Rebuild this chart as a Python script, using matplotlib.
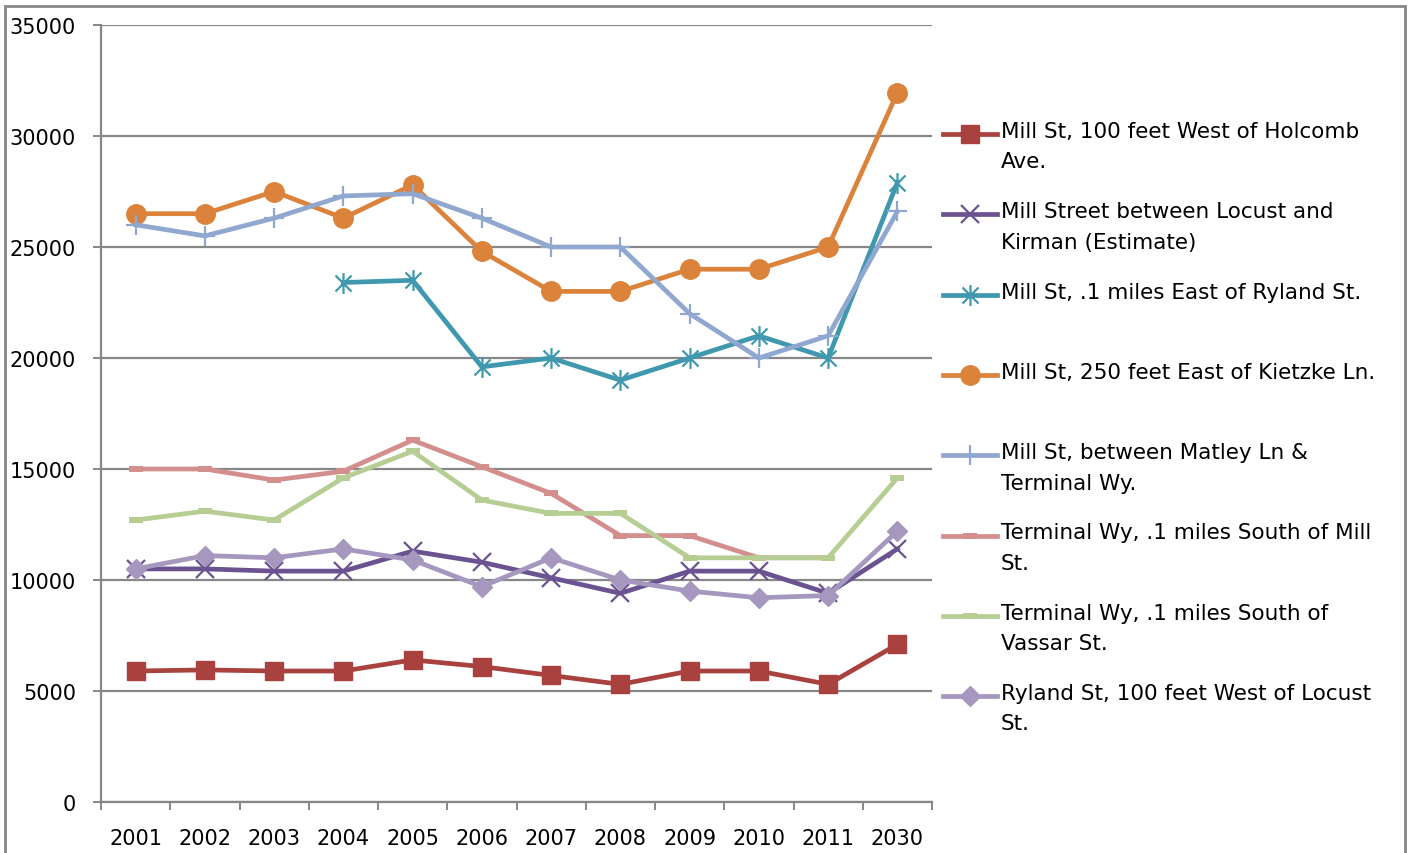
import numpy as np
import matplotlib
matplotlib.use("Agg")
import matplotlib.pyplot as plt
from matplotlib.lines import Line2D
from matplotlib.path import Path
from matplotlib.patches import Rectangle

# Categories and series.
years = ["2001", "2002", "2003", "2004", "2005", "2006",
         "2007", "2008", "2009", "2010", "2011", "2030"]
nan = np.nan

holcomb = [5900, 5950, 5900, 5900, 6400, 6100, 5700, 5300, 5900, 5900, 5300, 7100]
locust_kirman = [10500, 10500, 10400, 10400, 11300, 10800, 10100, 9400, 10400, 10400, 9400, 11400]
east_ryland = [nan, nan, nan, 23400, 23500, 19600, 20000, 19000, 20000, 21000, 20000, 27900]
kietzke = [26500, 26500, 27500, 26300, 27800, 24800, 23000, 23000, 24000, 24000, 25000, 31950]
matley = [26000, 25500, 26300, 27300, 27400, 26300, 25000, 25000, 22000, 20000, 21000, 26600]
terminal_mill = [15000, 15000, 14500, 14900, 16300, 15100, 13900, 12000, 12000, 11000, 11000, nan]
terminal_vassar = [12700, 13100, 12700, 14600, 15800, 13600, 13000, 13000, 11000, 11000, 11000, 14600]
ryland_locust = [10500, 11100, 11000, 11400, 10900, 9700, 11000, 10000, 9500, 9200, 9300, 12200]

labels = [
    "Mill St, 100 feet West of Holcomb\nAve.",
    "Mill Street between Locust and\nKirman (Estimate)",
    "Mill St, .1 miles East of Ryland St.",
    "Mill St, 250 feet East of Kietzke Ln.",
    "Mill St, between Matley Ln &\nTerminal Wy.",
    "Terminal Wy, .1 miles South of Mill\nSt.",
    "Terminal Wy, .1 miles South of\nVassar St.",
    "Ryland St, 100 feet West of Locust\nSt.",
]

# Excel-like asterisk: an X with a vertical bar through it
asterisk = Path([(-1, -1), (1, 1), (-1, 1), (1, -1), (0, -1.3), (0, 1.3)],
                [Path.MOVETO, Path.LINETO] * 3)

styles = [
    dict(color="#A9423F", marker="s", ms=13),
    dict(color="#6B5291", marker="x", ms=13, mew=1.6),
    dict(color="#3F98AE", marker=asterisk, ms=15, mew=1.6),
    dict(color="#DB823B", marker="o", ms=14),
    dict(color="#90A8CF", marker="+", ms=15, mew=1.6),
    dict(color="#D38F8E", marker="_", ms=10, mew=4.3),
    dict(color="#B6CD93", marker="_", ms=10, mew=4.3),
    dict(color="#A597BE", marker="D", ms=10.5),
]

series = [holcomb, locust_kirman, east_ryland, kietzke, matley,
          terminal_mill, terminal_vassar, ryland_locust]

W, H = 1411, 854
fig = plt.figure(figsize=(W / 100, H / 100), dpi=100)
ax = fig.add_axes([101 / W, 1 - 803 / H, (932 - 101) / W, (803 - 26) / H])

x = np.arange(len(years))
for vals, st in zip(series, styles):
    ax.plot(x, vals, lw=3.4, color=st["color"], marker=st["marker"],
            ms=st["ms"], mew=st.get("mew", 1), mec=st["color"],
            mfc=st["color"], solid_joinstyle="round", zorder=3)

grid_c = "#878787"
ax.set_xlim(-0.5, len(years) - 0.5)
ax.set_ylim(0, 35000)
ax.set_yticks(np.arange(0, 35001, 5000))
ax.yaxis.grid(True, color=grid_c, lw=1.6)
ax.set_axisbelow(True)
for side in ("top", "right"):
    ax.spines[side].set_visible(False)
for side in ("left", "bottom"):
    ax.spines[side].set_color(grid_c)
    ax.spines[side].set_linewidth(1.6)

ax.set_xticks(x)
ax.set_xticklabels(years)
ax.set_xticks(np.arange(-0.5, len(years)), minor=True)
ax.tick_params(axis="x", which="major", length=0, pad=19, labelsize=15)
ax.tick_params(axis="x", which="minor", length=6, width=1.4, color=grid_c)
ax.tick_params(axis="y", length=6, width=1.4, color=grid_c, pad=12, labelsize=15)

# Legend drawn by hand so that every entry gets the same slot height
for i, (lab, st) in enumerate(zip(labels, styles)):
    ypx = 135 + 80.3 * i
    yf = 1 - ypx / H
    fig.add_artist(Line2D([943 / W, 997 / W], [yf, yf], transform=fig.transFigure,
                          lw=3.4, color=st["color"]))
    fig.add_artist(Line2D([970 / W], [yf], transform=fig.transFigure,
                          marker=st["marker"], ms=st["ms"], mew=st.get("mew", 1),
                          mec=st["color"], mfc=st["color"], lw=0))
    fig.text(1001 / W, 1 - (ypx - 13) / H, lab, fontsize=15.5, va="top",
             ha="left", linespacing=1.65, color="#000000")

# Outer chart border
fig.add_artist(Rectangle((5 / W, -0.05), (1405 - 5) / W, 1.05 - 7 / H,
                         transform=fig.transFigure, fill=False,
                         edgecolor=grid_c, lw=2))

fig.savefig("out.png", dpi=100)
